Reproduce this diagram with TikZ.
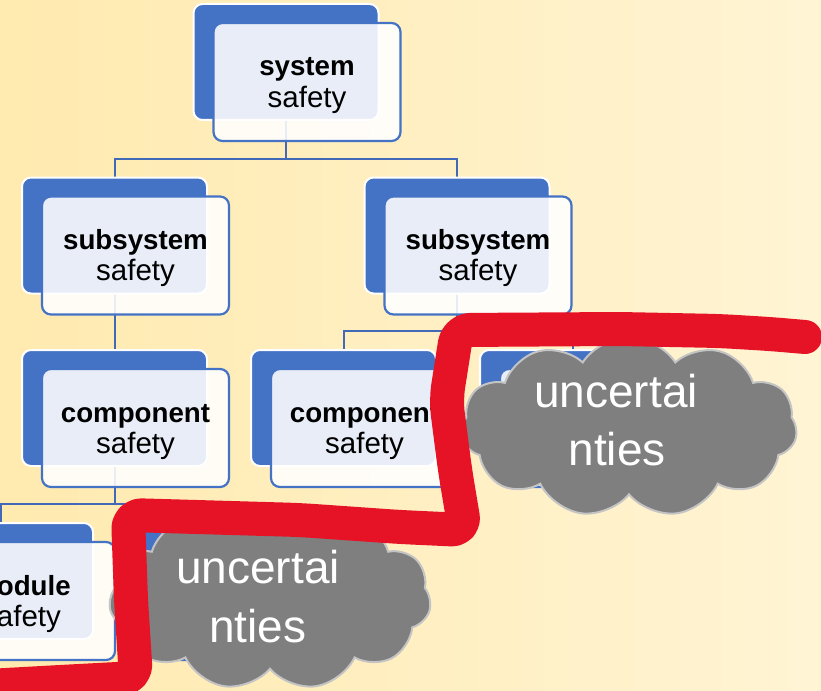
\documentclass[tikz,border=0pt]{standalone}
\usepackage{fontspec}
\setmainfont{Liberation Sans}
\usetikzlibrary{shapes.symbols,calc}

\definecolor{bgdeep}{HTML}{FFEAAF}
\definecolor{bgmid}{HTML}{FFEDB9}
\definecolor{bglight}{HTML}{FFF4D4}
\definecolor{accent}{HTML}{4472C4}
\definecolor{wireblue}{HTML}{4169B8}
\definecolor{cloudfill}{HTML}{7F7F7F}
\definecolor{cloudedge}{HTML}{C4C4C4}
\definecolor{markerred}{HTML}{E61226}

\pgfdeclarelayer{backdrop}
\pgfdeclarelayer{wires}
\pgfsetlayers{backdrop,wires,main}

\tikzset{
  backbox/.style={draw=white, line width=2pt, fill=accent, rounded corners=9pt,
    minimum width=185pt, minimum height=116pt, inner sep=0pt, outer sep=0pt},
  frontbox/.style={draw=accent, line width=2.2pt, fill=white, fill opacity=0.88,
    rounded corners=9pt, minimum width=187pt, minimum height=118pt,
    inner sep=0pt, outer sep=0pt},
  titleline/.style={font=\fontsize{27.7}{31}\selectfont\bfseries, inner sep=0pt, anchor=base},
  subline/.style={font=\fontsize{29.5}{31}\selectfont, inner sep=0pt, anchor=base},
  wire/.style={draw=wireblue, line width=2pt},
  puff/.style={cloud, cloud puffs=11, cloud puff arc=115, fill=cloudfill,
    draw=cloudedge, line width=2pt, inner sep=0pt},
  cloudtext/.style={text=white, font=\fontsize{46}{58}\selectfont, inner sep=0pt, anchor=base},
  marker/.style={draw=markerred, line width=34pt, line cap=round, line join=round,
    rounded corners=14pt},
}

% a safety level: solid back card with a translucent card over it
\newcommand\safetypair[3]{%
  \node[backbox] (#1-back) at (#2,#3) {};
  \node[frontbox] (#1) at ($(#1-back.center)+(21,20)$) {};
}
% the two text lines of a card
\newcommand\safetytext[3]{%
  \node[titleline] (#1-title) at ($(#1.north)+(0,53)$) {#2};
  \node[subline] (#1-scope) at ($(#1.north)+(0,84)$) {#3};
}
% elbow connector from a parent card to a child card
\newcommand\branch[2]{%
  \draw[wire] (#1-back.south) |- ($(#1-back.south)!0.67!(#2-back.north)$) -| (#2-back.north);
}

\begin{document}
\begin{tikzpicture}[x=1pt, y=-1pt]
\useasboundingbox (0,0) rectangle (821,690);
\begin{pgfonlayer}{backdrop}
  \shade[left color=bgdeep, middle color=bgmid, right color=bglight] (0,0) rectangle (821,690);
\end{pgfonlayer}
\clip (0,0) rectangle (821,690);

% cards
\safetypair{sys}{286}{62}
\safetypair{subL}{114.5}{235.5}
\safetypair{subR}{457}{235.5}
\safetypair{compL}{114.5}{408}
\safetypair{compM}{343.5}{408}
\safetypair{compR}{572.5}{408}
\safetypair{modL}{0.5}{581}
\safetypair{modR}{230.5}{581}

\safetytext{sys}{system}{safety}
\safetytext{subL}{subsystem}{safety}
\safetytext{subR}{subsystem}{safety}
\safetytext{compL}{component}{safety}
\safetytext{compM}{component}{safety}
\safetytext{modL}{module}{safety}

% hierarchy lines
\begin{pgfonlayer}{wires}
  \branch{sys}{subL}
  \branch{sys}{subR}
  \branch{subL}{compL}
  \branch{subR}{compM}
  \branch{subR}{compR}
  \branch{compL}{modL}
  \branch{compL}{modR}
\end{pgfonlayer}

% clouds
\node[puff, minimum width=336pt, minimum height=180pt] (cloudA) at (629,427) {};
\node[puff, minimum width=322pt, minimum height=184pt] (cloudB) at (270,598) {};
\node[cloudtext] (cloudA-l1) at (616,407) {uncertai};
\node[cloudtext] (cloudA-l2) at (617,465) {nties};
\node[cloudtext] (cloudB-l1) at (258,583) {uncertai};
\node[cloudtext] (cloudB-l2) at (258,642) {nties};

% hand-drawn red boundary
\draw[marker] (-12,686) -- (60,682) -- (136,678) -- (131,600) -- (128,515)
  -- (300,520) -- (400,527) -- (465,530) -- (455,470) -- (446,400) -- (457,330)
  -- (620,329) -- (720,331) -- (770,334) -- (805,337);
\end{tikzpicture}
\end{document}
